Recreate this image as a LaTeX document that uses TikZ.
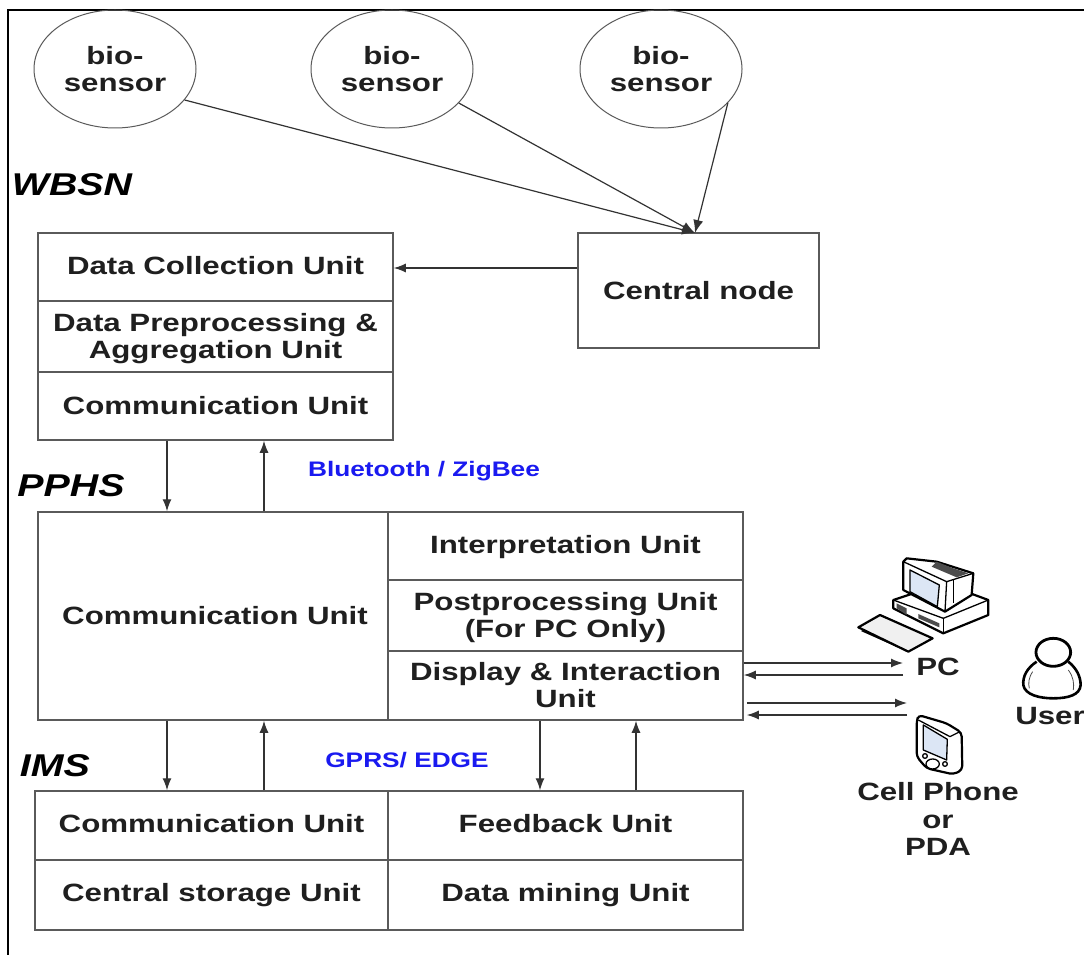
\documentclass[tikz,border=0pt]{standalone}
\usepackage{fontspec}
\setmainfont[FakeStretch=1.25]{Liberation Sans}
\usetikzlibrary{arrows.meta,calc,shapes.geometric}
\definecolor{boxline}{HTML}{5A5A5A}
\definecolor{labelblue}{HTML}{1A1AF0}
\definecolor{screenblue}{HTML}{DCE6F5}
\tikzset{
  cellbox/.style={draw=boxline,line width=1.5pt,inner sep=0pt},
  celltext/.style={inner sep=0pt,align=center,font=\fontsize{25}{27}\selectfont\bfseries,text=black!88},
  sensor/.style={shape=ellipse,draw=boxline,line width=1pt,minimum width=162pt,minimum height=118pt,inner sep=0pt,align=center,font=\fontsize{25}{27}\selectfont\bfseries,text=black!88},
  flow/.style={draw=black!80,line width=1.3pt,-{Latex[length=12pt,width=9pt]}},
  spoke/.style={draw=black!80,line width=1.2pt,-{Latex[length=13pt,width=10pt]}},
  tier/.style={font=\fontsize{31.5}{34}\selectfont\bfseries\itshape,inner sep=0pt},
  link/.style={font=\fontsize{21}{24}\selectfont\bfseries,text=labelblue,inner sep=0pt},
  device/.style={font=\fontsize{25}{27.5}\selectfont\bfseries,text=black!88,align=center,inner sep=0pt},
  icon/.style={draw=black,line width=2.2pt,line join=round},
  iconin/.style={draw=black,line width=1.3pt,line join=round},
}
\newcommand{\cellnode}[5]{%
  \pgfmathsetmacro{\cw}{#4-#2}\pgfmathsetmacro{\ch}{#5-#3}%
  \node[cellbox,minimum width=\cw pt,minimum height=\ch pt] (#1) at ({(#2+#4)/2},{(#3+#5)/2}) {};}
% \celllabel[dx,dy]{cell}{text}
\newcommand{\celllabel}[3][0pt,0pt]{\node[celltext] (#2t) at ([shift={(#1)}]#2.center) {#3};}
\begin{document}
\begin{tikzpicture}[x=1pt,y=-1pt]
\useasboundingbox (0,0) rectangle (1084,955);
\fill[white] (0,0) rectangle (1084,955);
\draw[black,line width=2.4pt] (8,955) -- (8,10) -- (1084,10);

% sensors
\node[sensor] (s1) at (115,69) {bio-\\sensor};
\node[sensor] (s2) at (392,69) {bio-\\sensor};
\node[sensor] (s3) at (661,69) {bio-\\sensor};

% WBSN
\cellnode{dcu}{38}{233}{393}{301} \celllabel[0pt,1.5pt]{dcu}{Data Collection Unit}
\cellnode{dpa}{38}{301}{393}{372} \celllabel[0pt,-2pt]{dpa}{Data Preprocessing \&\\Aggregation Unit}
\cellnode{wcu}{38}{372}{393}{440} \celllabel{wcu}{Communication Unit}
\cellnode{central}{578}{233}{819}{348} \celllabel{central}{Central node}

% PPHS
\cellnode{pcu}{38}{512}{388}{720} \celllabel[2pt,0pt]{pcu}{Communication Unit}
\cellnode{iu}{388}{512}{743}{580} \celllabel[0pt,-1pt]{iu}{Interpretation Unit}
\cellnode{ppu}{388}{580}{743}{651} \celllabel[0pt,-2pt]{ppu}{Postprocessing Unit\\(For PC Only)}
\cellnode{diu}{388}{651}{743}{720} \celllabel{diu}{Display \& Interaction\\Unit}

% IMS
\cellnode{icu}{35}{791}{388}{860} \celllabel[0pt,2pt]{icu}{Communication Unit}
\cellnode{csu}{35}{860}{388}{930} \celllabel{csu}{Central storage Unit}
\cellnode{fbu}{388}{791}{743}{860} \celllabel[0pt,2pt]{fbu}{Feedback Unit}
\cellnode{dmu}{388}{860}{743}{930} \celllabel{dmu}{Data mining Unit}

% tier and link labels
\node[tier] (wbsn) at (72,185) {WBSN};
\node[tier] (pphs) at (71,486) {PPHS};
\node[tier] (ims) at (55,766) {IMS};
\node[link] (bt) at (424,471) {Bluetooth / ZigBee};
\node[link] (gprs) at (407,760) {GPRS/ EDGE};

% device labels
\node[device] (pc) at (938,667) {PC};
\node[device] (user) at (1050,716) {User};
\node[device] (cell) at (938,819) {Cell Phone\\or\\PDA};

% connectors
\coordinate (hub) at (695,233);
\draw[spoke] (s1.-24) -- (hub);
\draw[spoke] (s2.-27) -- (hub);
\draw[spoke] (s3.-27) -- (hub);
\draw[flow] (central.west |- 0,268) -- (dcu.east |- 0,268);
\draw[flow] (wcu.south -| 167,0) -- (pcu.north -| 167,0);
\draw[flow] (pcu.north -| 264,0) -- (wcu.south -| 264,0);
\draw[flow] (pcu.south -| 167,0) -- (icu.north -| 167,0);
\draw[flow] (icu.north -| 264,0) -- (pcu.south -| 264,0);
\draw[flow] (diu.south -| 540,0) -- (fbu.north -| 540,0);
\draw[flow] (fbu.north -| 636,0) -- (diu.south -| 636,0);
\coordinate (pcport) at (903,669);
\coordinate (pdaport) at (907,709);
\draw[flow] (diu.east |- 0,663) -- (pcport |- 0,663);
\draw[flow] (pcport |- 0,675) -- (diu.east |- 0,675);
\draw[flow] ([xshift=3pt]diu.east |- 0,703) -- (pdaport |- 0,703);
\draw[flow] (pdaport |- 0,715) -- ([xshift=3pt]diu.east |- 0,715);

% icons, in 3x crop coordinates
\begin{scope}[shift={(740,540)},x=0.3333pt,y=-0.3333pt]
  % PC: case
  \draw[icon,fill=white] (460,180) -- (610,130) -- (745,180) -- (745,225) -- (610,280) -- (460,205) -- cycle;
  \draw[iconin] (610,235) -- (745,180);
  \draw[iconin] (610,235) -- (610,280);
  \draw[iconin] (460,180) -- (610,235);
  \fill[black!70] (470,190) -- (500,205) -- (500,225) -- (470,205) -- cycle;
  \fill[black!70] (535,222) -- (598,250) -- (598,262) -- (535,235) -- cycle;
  % PC: monitor
  \draw[icon,fill=white] (490,65) -- (500,55) -- (590,65) -- (700,100) -- (695,165) -- (615,215) -- (490,150) -- cycle;
  \draw[iconin] (490,65) -- (620,125) -- (615,215);
  \draw[iconin] (620,125) -- (700,100);
  \draw[iconin] (640,118) -- (640,190);
  \fill[black!70] (590,65) -- (640,85) -- (685,100) -- (650,112) -- (575,80) -- cycle;
  \draw[iconin,fill=screenblue] (510,90) -- (598,135) -- (592,200) -- (510,155) -- cycle;
  % PC: keyboard
  \draw[icon,fill=black!6] (355,262) -- (420,225) -- (578,295) -- (505,335) -- cycle;
  \draw[iconin] (365,272) -- (500,332);
  % PDA
  \draw[icon,fill=white,rounded corners=4pt] (530,545) -- (535,525) -- (620,550) -- (665,578) -- (667,690) -- (640,703) -- (560,685) -- (530,650) -- cycle;
  \draw[iconin] (535,540) -- (630,590) -- (660,575);
  \draw[iconin,fill=screenblue] (550,555) -- (622,598) -- (620,660) -- (550,630) -- cycle;
  \draw[iconin,fill=white] (578,672) ellipse [x radius=20,y radius=15];
  \draw[iconin,fill=white] (555,648) circle (7);
  \draw[iconin,fill=white] (615,672) circle (7);
  % user
  \draw[icon,line width=2.6pt,fill=white] (890,365) .. controls (860,385) and (848,410) .. (850,435) .. controls (855,465) and (900,475) .. (940,475) .. controls (985,475) and (1020,465) .. (1022,435) .. controls (1022,410) and (1010,385) .. (985,365);
  \draw[icon,line width=2.8pt,fill=white] (940,337) ellipse [x radius=52,y radius=42];
  \draw[line width=0.8pt,black!70] (878,395) .. controls (865,415) and (865,430) .. (868,445);
  \draw[line width=0.8pt,black!70] (985,390) .. controls (1000,410) and (1003,430) .. (1000,450);
\end{scope}
\end{tikzpicture}
\end{document}
